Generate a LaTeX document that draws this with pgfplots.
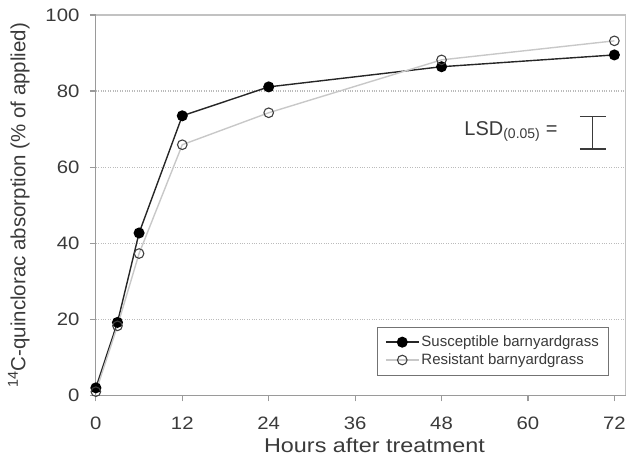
\documentclass[border=0pt]{standalone}
\usepackage{fontspec}
\setmainfont{Liberation Sans}
\newfontfamily\widefont[FakeStretch=1.13]{Liberation Sans}
\newfontfamily\widerfont[FakeStretch=1.17]{Liberation Sans}
\usepackage{pgfplots}
\pgfplotsset{compat=1.18}
\definecolor{txt}{HTML}{3A3A3A}
\definecolor{spine}{HTML}{9A9A9A}
\definecolor{gridc}{HTML}{BBBBBB}
\definecolor{resline}{HTML}{C8C8C8}
\begin{document}
\begin{tikzpicture}
\begin{axis}[
  scale only axis,
  width=530pt, height=381pt,
  xmin=0, xmax=73.5, ymin=0, ymax=100,
  xtick={0,12,24,36,48,60,72},
  ytick={0,20,40,60,80,100},
  axis line style={spine, line width=1.2pt},
  tick style={spine, line width=1.2pt},
  tick align=outside,
  major tick length=6pt,
  xtick pos=bottom, ytick pos=left,
  ymajorgrids,
  grid style={gridc, dotted, line width=1.2pt},
  /pgf/number format/assume math mode=true,
  tick label style={font=\widefont\fontsize{18}{20}\selectfont, text=txt},
  xticklabel style={yshift=-12pt},
  yticklabel style={xshift=-7pt},
  xlabel={Hours after treatment},
  ylabel={\textsuperscript{14}C-quinclorac absorption (\% of applied)},
  label style={text=txt},
  xlabel style={font=\widerfont\fontsize{20}{22}\selectfont, yshift=-1pt, xshift=14pt},
  ylabel style={font=\fontsize{20.5}{22}\selectfont, yshift=9pt},
  clip=false,
  legend style={at={(rel axis cs:0.97,0.052)}, anchor=south east, draw=black!55, line width=1pt,
    font=\fontsize{15}{17}\selectfont, text=txt, inner xsep=8pt, inner ysep=7pt,
    row sep=1.5pt},
  legend cell align=left,
  legend image code/.code={\draw[mark repeat=2,mark phase=2,#1]
    plot coordinates {(0pt,0pt) (16.5pt,0pt) (33pt,0pt)};},
]
\addplot[color=black!85, line width=1.4pt, mark=*, mark size=4.8pt,
  mark options={fill=black, draw=black}]
  coordinates {(0,2) (3,19.2) (6,42.7) (12,73.5) (24,81.1) (48,86.4) (72,89.5)};
\addlegendentry{Susceptible barnyardgrass}
\addplot[color=resline, line width=1.4pt, mark=o, mark size=4.8pt,
  mark options={draw=black!75, fill=white, line width=1.1pt}]
  coordinates {(0,1) (3,18.3) (6,37.3) (12,65.9) (24,74.3) (48,88.2) (72,93.2)};
\addlegendentry{Resistant barnyardgrass}
\node[text=txt, font=\fontsize{20}{22}\selectfont, anchor=east] at (axis cs:64.6,69.4)
  {LSD\textsubscript{(0.05)} =};
\draw[txt, line width=1.2pt] (axis cs:67.2,73.4) -- (axis cs:70.8,73.4)
  (axis cs:69,73.4) -- (axis cs:69,64.8)
  (axis cs:67.2,64.8) -- (axis cs:70.8,64.8);
\draw[spine!60, line width=1.2pt] (rel axis cs:1,0) -- (rel axis cs:1,1) -- (rel axis cs:0,1);
\path (rel axis cs:0,0) ++(-96pt,-66pt) (rel axis cs:1,1) ++(3pt,15pt);
\end{axis}
\end{tikzpicture}
\end{document}
